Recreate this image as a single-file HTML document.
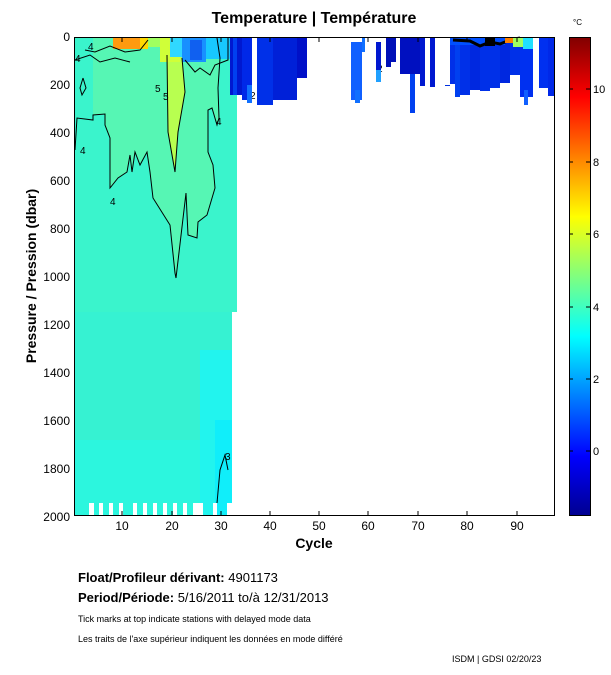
<!DOCTYPE html>
<html><head><meta charset="utf-8"><style>
body{margin:0;background:#fff;}
svg{display:block;font-family:"Liberation Sans",sans-serif;}
</style></head><body>
<svg width="611" height="675" viewBox="0 0 611 675" xmlns="http://www.w3.org/2000/svg">
<defs>
<linearGradient id="jet" x1="0" y1="1" x2="0" y2="0">
<stop offset="0" stop-color="#00008f"/>
<stop offset="0.125" stop-color="#0000ff"/>
<stop offset="0.375" stop-color="#00ffff"/>
<stop offset="0.625" stop-color="#ffff00"/>
<stop offset="0.875" stop-color="#ff0000"/>
<stop offset="1" stop-color="#800000"/>
</linearGradient>
</defs>
<text x="314" y="23" font-size="16" font-weight="bold" text-anchor="middle">Temperature | Température</text>
<rect x="74" y="37" width="163" height="275" fill="#3af4cc"/>
<rect x="74" y="312" width="158" height="204" fill="#36f2d2"/>
<rect x="200" y="350" width="32" height="166" fill="#22f4ee"/>
<rect x="215" y="420" width="17" height="96" fill="#10eefa"/>
<rect x="74" y="440" width="126" height="76" fill="#2cf6de"/>
<g fill="#fff">
<rect x="74" y="503" width="1" height="13"/>
<rect x="89" y="503" width="5" height="13"/><rect x="99" y="503" width="4" height="13"/>
<rect x="109" y="503" width="4" height="13"/><rect x="119" y="503" width="4" height="13"/>
<rect x="133" y="503" width="4" height="13"/><rect x="143" y="503" width="4" height="13"/>
<rect x="153" y="503" width="4" height="13"/><rect x="163" y="503" width="4" height="13"/>
<rect x="173" y="503" width="4" height="13"/><rect x="183" y="503" width="4" height="13"/>
<rect x="193" y="503" width="10" height="13"/><rect x="213" y="503" width="4" height="13"/>
<rect x="227" y="503" width="5" height="13"/>
</g>
<polygon points="93,60 93,115 105,114 105,125 110,138 110,188 118,178 127,172 130,155 132,172 135,152 140,165 147,152 150,172 153,198 170,225 175,273 176,278 186,193 188,235 197,238 198,222 207,215 215,188 213,165 208,152 208,110 212,108 217,125 219,118 218,88 220,58 217,38 93,38" fill="#56f6b4"/>
<polygon points="167,55 168,132 175,172 178,132 185,92 182,58 175,45" fill="#b8ff50"/>
<rect x="160" y="37" width="20" height="25" fill="#d0ff38"/>
<rect x="113" y="37" width="32" height="12" fill="#ff9a10"/>
<rect x="140" y="37" width="8" height="12" fill="#ffd800"/>
<rect x="148" y="37" width="12" height="10" fill="#a0ff60"/>
<rect x="170" y="37" width="12" height="20" fill="#30d8ff"/>
<rect x="182" y="37" width="24" height="25" fill="#1890ff"/>
<rect x="190" y="40" width="12" height="20" fill="#1060f0"/>
<rect x="206" y="37" width="24" height="22" fill="#18c8ff"/>
<g fill="none" stroke="#000" stroke-width="1">
<polyline points="75,150 77,118 93,120 93,115 105,114 105,125 110,138 110,188 118,178 127,172 130,155 132,172 135,152 140,165 147,152 150,172 153,198 170,225 175,273 176,278 186,193 188,235 197,238 198,222 207,215 215,188 213,165 208,152 208,110 212,108 217,125 219,118 218,88 220,58 217,38"/>
<polyline points="167,55 168,132 175,172 178,132 185,92 182,58"/>
<polyline points="85,50 95,52 110,46 125,52 140,50 148,40"/>
<polyline points="75,60 90,55 100,62 115,58 130,62"/>
<polyline points="185,60 195,72 200,68 210,75 215,65 228,60 228,37"/>
<polyline points="83,78 80,88 82,95 86,88 83,78"/>
<polyline points="217,503 220,470 225,455 228,470"/>
</g>
<g font-size="10" fill="#000">
<text x="88" y="50">4</text><text x="75" y="62">4</text><text x="155" y="92">5</text>
<text x="163" y="100">5</text><text x="80" y="154">4</text><text x="110" y="205">4</text>
<text x="216" y="125">4</text><text x="225" y="460">3</text><text x="250" y="99">2</text>
<text x="377" y="72">2</text>
</g>
<g>
<rect x="230" y="37" width="12" height="58" fill="#0018d0"/>
<rect x="233" y="37" width="4" height="58" fill="#0040f0"/>
<rect x="242" y="37" width="10" height="63" fill="#0028e8"/>
<rect x="247" y="85" width="5" height="18" fill="#1070ff"/>
<rect x="257" y="37" width="16" height="68" fill="#0030e8"/>
<rect x="273" y="37" width="24" height="63" fill="#0020d8"/>
<rect x="297" y="37" width="10" height="41" fill="#0010c8"/>
<rect x="351" y="42" width="11" height="58" fill="#1060ff"/>
<rect x="355" y="90" width="5" height="13" fill="#1070ff"/>
<rect x="362" y="37" width="3" height="15" fill="#1070ff"/>
<rect x="376" y="42" width="5" height="28" fill="#0018d0"/>
<rect x="376" y="70" width="5" height="12" fill="#20a0ff"/>
<rect x="386" y="37" width="5" height="30" fill="#0010b8"/>
<rect x="391" y="37" width="5" height="25" fill="#0010b8"/>
<rect x="400" y="37" width="10" height="37" fill="#0010c0"/>
<rect x="410" y="37" width="5" height="37" fill="#0010c0"/>
<rect x="410" y="74" width="5" height="39" fill="#0040f0"/>
<rect x="415" y="37" width="5" height="37" fill="#0010c0"/>
<rect x="420" y="37" width="5" height="49" fill="#0018d0"/>
<rect x="430" y="37" width="5" height="50" fill="#0018d0"/>
<rect x="445" y="85" width="5" height="1" fill="#0030e0"/>
<rect x="450" y="37" width="5" height="47" fill="#0030e8"/>
<rect x="455" y="37" width="5" height="60" fill="#0040f0"/>
<rect x="460" y="37" width="10" height="58" fill="#0030e8"/>
<rect x="470" y="37" width="10" height="53" fill="#0028e0"/>
<rect x="480" y="37" width="10" height="54" fill="#0030e8"/>
<rect x="490" y="37" width="10" height="51" fill="#0030e8"/>
<rect x="500" y="37" width="10" height="46" fill="#0028e0"/>
<rect x="510" y="37" width="10" height="38" fill="#0030e8"/>
<rect x="520" y="37" width="13" height="60" fill="#0030f0"/>
<rect x="524" y="90" width="4" height="15" fill="#1060ff"/>
<rect x="539" y="37" width="9" height="51" fill="#0030f0"/>
<rect x="548" y="37" width="7" height="59" fill="#0028e8"/>
<rect x="450" y="37" width="55" height="8" fill="#0050ff"/>
<polyline points="453,40 470,41 480,46 490,42 500,44 510,40 520,38" fill="none" stroke="#000" stroke-width="3"/>
<rect x="485" y="38" width="10" height="8" fill="#000"/>
<rect x="505" y="37" width="8" height="6" fill="#ff8000"/>
<rect x="513" y="37" width="10" height="10" fill="#a0ff60"/>
<rect x="523" y="37" width="10" height="12" fill="#20e0ff"/>
</g>
<rect x="74.5" y="37.5" width="480" height="478" fill="none" stroke="#000" stroke-width="1"/>
<g stroke="#000" stroke-width="1">
<line x1="122" y1="516" x2="122" y2="511"/><line x1="122" y1="37" x2="122" y2="42"/>
<line x1="172" y1="516" x2="172" y2="511"/><line x1="172" y1="37" x2="172" y2="42"/>
<line x1="221" y1="516" x2="221" y2="511"/><line x1="221" y1="37" x2="221" y2="42"/>
<line x1="270" y1="516" x2="270" y2="511"/><line x1="270" y1="37" x2="270" y2="42"/>
<line x1="319" y1="516" x2="319" y2="511"/><line x1="319" y1="37" x2="319" y2="42"/>
<line x1="368" y1="516" x2="368" y2="511"/><line x1="368" y1="37" x2="368" y2="42"/>
<line x1="418" y1="516" x2="418" y2="511"/><line x1="418" y1="37" x2="418" y2="42"/>
<line x1="467" y1="516" x2="467" y2="511"/><line x1="467" y1="37" x2="467" y2="42"/>
<line x1="517" y1="516" x2="517" y2="511"/><line x1="517" y1="37" x2="517" y2="42"/>
</g>
<g font-size="12" text-anchor="middle">
<text x="122" y="530">10</text><text x="172" y="530">20</text><text x="221" y="530">30</text>
<text x="270" y="530">40</text><text x="319" y="530">50</text><text x="368" y="530">60</text>
<text x="418" y="530">70</text><text x="467" y="530">80</text><text x="517" y="530">90</text>
</g>
<g font-size="12" text-anchor="end">
<text x="70" y="41">0</text><text x="70" y="89">200</text><text x="70" y="137">400</text>
<text x="70" y="185">600</text><text x="70" y="233">800</text><text x="70" y="281">1000</text>
<text x="70" y="329">1200</text><text x="70" y="377">1400</text><text x="70" y="425">1600</text>
<text x="70" y="473">1800</text><text x="70" y="521">2000</text>
</g>
<text x="314" y="548" font-size="14" font-weight="bold" text-anchor="middle">Cycle</text>
<text transform="translate(36,276) rotate(-90)" font-size="14" font-weight="bold" text-anchor="middle">Pressure / Pression (dbar)</text>
<rect x="569" y="37" width="21" height="479" fill="url(#jet)"/>
<rect x="569.5" y="37.5" width="21" height="478" fill="none" stroke="#000"/>
<g stroke="#000">
<line x1="569" y1="89" x2="573" y2="89"/><line x1="586" y1="89" x2="590" y2="89"/>
<line x1="569" y1="162" x2="573" y2="162"/><line x1="586" y1="162" x2="590" y2="162"/>
<line x1="569" y1="234" x2="573" y2="234"/><line x1="586" y1="234" x2="590" y2="234"/>
<line x1="569" y1="307" x2="573" y2="307"/><line x1="586" y1="307" x2="590" y2="307"/>
<line x1="569" y1="379" x2="573" y2="379"/><line x1="586" y1="379" x2="590" y2="379"/>
<line x1="569" y1="451" x2="573" y2="451"/><line x1="586" y1="451" x2="590" y2="451"/>
</g>
<g font-size="11">
<text x="593" y="93">10</text><text x="593" y="166">8</text><text x="593" y="238">6</text>
<text x="593" y="311">4</text><text x="593" y="383">2</text><text x="593" y="455">0</text>
</g>
<text x="573" y="25" font-size="8">°C</text>
<text x="78" y="582" font-size="13"><tspan font-weight="bold">Float/Profileur dérivant:</tspan> 4901173</text>
<text x="78" y="602" font-size="13"><tspan font-weight="bold">Period/Période:</tspan> 5/16/2011  to/à  12/31/2013</text>
<text x="78" y="622" font-size="9">Tick marks at top indicate stations with delayed mode data</text>
<text x="78" y="642" font-size="9">Les traits de l'axe supérieur indiquent les données en mode différé</text>
<text x="452" y="662" font-size="9">ISDM | GDSI  02/20/23</text>
</svg>
</body></html>
